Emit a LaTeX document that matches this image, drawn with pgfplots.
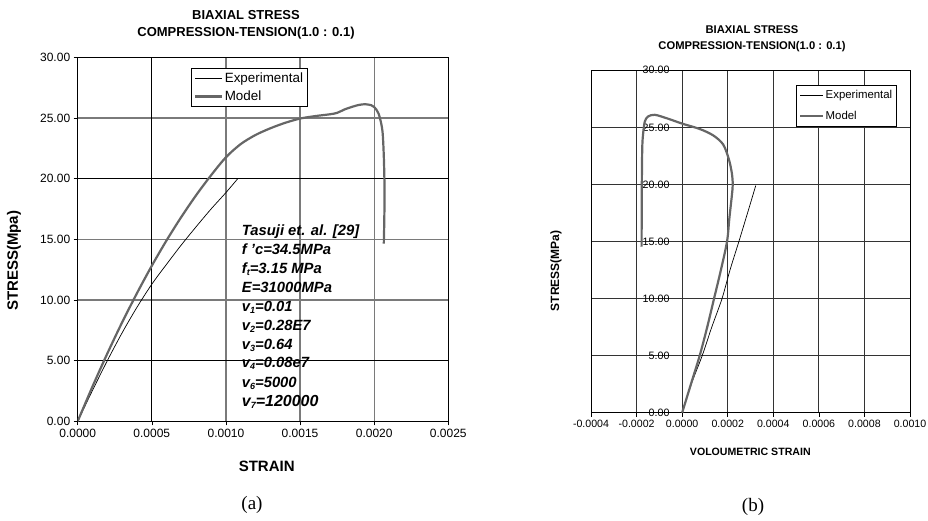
\documentclass[border=0pt]{standalone}
\usepackage{fontspec}
\setmainfont{Liberation Sans}
\newfontfamily\seriffont{Liberation Serif}
\usepackage{pgfplots}
\usepackage{pgfplotstable}
\pgfplotsset{compat=1.18}

\definecolor{modelgray}{HTML}{666666}
\definecolor{gridgray}{HTML}{7A7A7A}
\newcommand\fs[1]{\fontsize{#1bp}{#1bp}\selectfont}
\newcommand\sub[1]{\raisebox{-0.12em}{\fontsize{9bp}{9bp}\selectfont #1}}

% (a) stress vs strain
\pgfplotstableread{
x y
0 0
0.0001 2.55
0.0002 5.0
0.0003 7.3
0.0004 9.4
0.0005 11.3
0.0006 12.95
0.0007 14.55
0.0008 16.05
0.0009 17.5
0.001 18.85
0.00108 20.0
}\expA

\pgfplotstableread{
x y
0 0
0.0001 2.87
0.0002 5.59
0.0003 8.16
0.0004 10.56
0.0005 12.82
0.0006 14.92
0.0007 16.86
0.0008 18.65
0.0009 20.28
0.001 21.76
0.0011 22.85
0.0012 23.6
0.0013 24.15
0.0014 24.6
0.0015 24.95
0.0016 25.15
0.0017 25.3
0.00175 25.42
0.0018 25.7
0.00186 25.95
0.0019 26.08
0.00194 26.13
0.00198 26.05
0.002 25.9
0.00203 25.35
0.002055 24.0
0.002065 21.8
0.00207 19.0
0.002068 16.5
0.002065 14.65
}\modA

% (b) stress vs volumetric strain
\pgfplotstableread{
x y
0 0
0.00004 2.5
0.000088 5
0.00013 7.5
0.000175 10
0.00021 12.5
0.000249 15
0.000287 17.5
0.000323 19.9
}\expB

\pgfplotstableread{
x y
0 0
0.00004 2.6
0.000077 5
0.00011 7.5
0.00014 10
0.00017 12.5
0.000197 15
0.000207 17
0.000218 19
0.000222 20
0.000218 21
0.000205 22.2
0.00018 23.5
0.000136 24.3
0.000078 24.85
0.000004 25.3
-0.000025 25.5
-0.000068 25.8
-0.00012 26.1
-0.00015 25.95
-0.000164 25.5
-0.000171 24.5
-0.000175 23.3
-0.000177 20
-0.000178 14.55
}\modB

\pgfplotsset{
  paper/.style={
    scale only axis, anchor=south west,
    ymin=0, ymax=30, ytick={0,5,...,30},
    scaled x ticks=false,
    /pgf/number format/assume math mode=true,
    yticklabel={\pgfmathprintnumber[fixed,fixed zerofill,precision=2]{\tick}},
    xticklabel={\pgfmathprintnumber[fixed,fixed zerofill,precision=4]{\tick}},
    axis line style={black, line width=0.8bp},
    tick style={black, line width=0.6bp},
    tick align=outside, major tick length=4bp,
    xtick pos=bottom, ytick pos=left,
    legend cell align=left,
  },
}

\begin{document}
\begin{tikzpicture}[x=1bp,y=1bp]
\useasboundingbox (0,0) rectangle (928,521);

\begin{axis}[paper,
  at={(77.7bp,99.7bp)}, width=370.6bp, height=364bp,
  xmin=0, xmax=0.0025,
  xtick={0,0.0005,0.001,0.0015,0.002,0.0025},
  tick label style={font=\fs{12}},
  grid=major, major grid style={gridgray, line width=1.2bp},
  legend image code/.code={\draw[#1] (0bp,0bp) -- (27bp,0bp);},
  legend style={at={(0.305,0.97)}, anchor=north west, draw=black,
    line width=0.8bp, font=\fs{13.4}, inner xsep=3bp, inner ysep=2.5bp,
    row sep=4bp, nodes={inner sep=1.5bp}},
]
\draw[black, line width=1bp] (0.0005,0) -- (0.0005,30);
\draw[black, line width=1bp] (0,20) -- (0.0025,20);
\draw[black, line width=1bp] (0,5) -- (0.0025,5);
\addplot[black, line width=0.7bp, smooth, tension=0.5] table {\expA};
\addlegendentry{Experimental}
\addplot[modelgray, line width=2.2bp, smooth, tension=0.5] table {\modA};
\addlegendentry{Model}
\end{axis}

\begin{axis}[paper,
  at={(591bp,108.3bp)}, width=319bp, height=342.4bp,
  xmin=-0.0004, xmax=0.001,
  xtick={-0.0004,-0.0002,0,0.0002,0.0004,0.0006,0.0008,0.001},
  xticklabel style={font=\fs{10.6}},
  yticklabel style={font=\fs{10.7}, xshift=86bp},
  ytick style={draw=none},
  grid=major, major grid style={black!80, line width=0.8bp},
  legend image code/.code={\draw[#1] (0bp,0bp) -- (23bp,0bp);},
  legend style={at={(0.643,0.957)}, anchor=north west, draw=black,
    line width=0.8bp, font=\fs{11.4}, inner xsep=2.5bp, inner ysep=3.5bp,
    row sep=8bp, nodes={inner sep=1.5bp}},
]
\addplot[black, line width=0.7bp, smooth, tension=0.5] table {\expB};
\addlegendentry{Experimental}
\addplot[modelgray, line width=2.2bp, smooth, tension=0.5] table {\modB};
\addlegendentry{Model}
\end{axis}

% titles and labels
\node[font=\fs{13}\bfseries] at (246,506) {BIAXIAL STRESS};
\node[font=\fs{13}\bfseries] at (246,488) {COMPRESSION-TENSION(1.0 : 0.1)};
\node[font=\fs{11.2}\bfseries] at (752,491) {BIAXIAL STRESS};
\node[font=\fs{11.2}\bfseries] at (752,474) {COMPRESSION-TENSION(1.0 : 0.1)};

\node[font=\fs{15}\bfseries] at (266.7,54.3) {STRAIN};
\node[font=\fs{15}\bfseries, rotate=90] at (14,260) {STRESS(Mpa)};
\node[font=\fs{10.6}\bfseries] at (750.3,69.3) {VOLOUMETRIC STRAIN};
\node[font=\fs{12}\bfseries, rotate=90] at (556,250) {STRESS(MPa)};

\node[font=\seriffont\fs{19}] at (252,16) {(a)};
\node[font=\seriffont\fs{19}] at (753,14) {(b)};

% material parameters
\begin{scope}[every node/.style={anchor=base west, inner sep=0pt, font=\fs{14.8}\bfseries\itshape}]
\node at (241.7,285.7) {Tasuji et. al. [29]};
\node at (241.7,266.4) {f 'c=34.5MPa};
\node at (241.7,247.4) {f\sub{t}=3.15 MPa};
\node at (241.7,228.4) {E=31000MPa};
\node at (241.7,209.0) {v\sub{1}=0.01};
\node at (241.7,190.0) {v\sub{2}=0.28E7};
\node at (241.7,171.4) {v\sub{3}=0.64};
\node at (241.7,153.0) {v\sub{4}=0.08e7};
\node at (241.7,133.4) {v\sub{6}=5000};
\node[font=\fs{16}\bfseries\itshape] at (241.7,114.4) {v\sub{7}=120000};
\end{scope}
\end{tikzpicture}
\end{document}
